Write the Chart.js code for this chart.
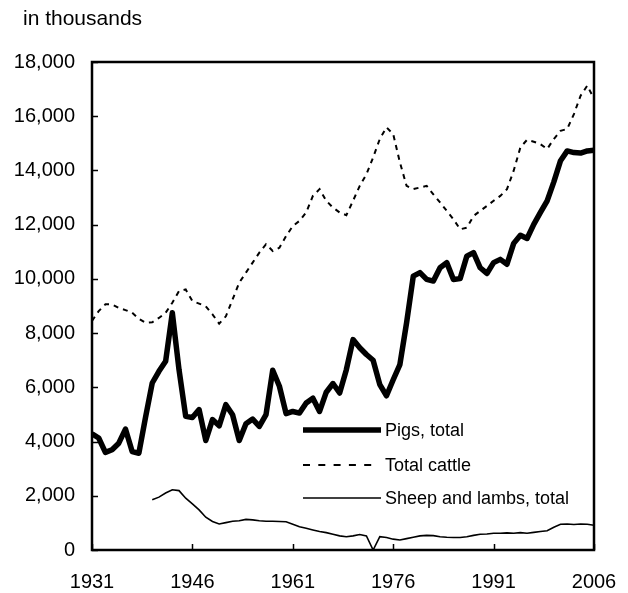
<!DOCTYPE html>
<html><head><meta charset="utf-8">
<script src="https://cdn.jsdelivr.net/npm/chart.js@4/dist/chart.umd.min.js"></script>
<style>html,body{margin:0;padding:0;background:#fff}#w{width:628px;height:593px}</style>
</head><body><div id="w"><canvas id="c" width="628" height="593"></canvas></div>
<script>
const years = [1931,1932,1933,1934,1935,1936,1937,1938,1939,1940,1941,1942,1943,1944,1945,1946,1947,1948,1949,1950,
1951,1952,1953,1954,1955,1956,1957,1958,1959,1960,1961,1962,1963,1964,1965,1966,1967,1968,1969,1970,
1971,1972,1973,1974,1975,1976,1977,1978,1979,1980,1981,1982,1983,1984,1985,1986,1987,1988,1989,1990,
1991,1992,1993,1994,1995,1996,1997,1998,1999,2000,2001,2002,2003,2004,2005,2006];
const pigs = [4290,4130,3600,3700,3940,4460,3630,3570,4900,6160,6590,6960,8750,6650,4930,4890,5180,4040,4810,4580,
5360,4990,4040,4660,4830,4560,4990,6630,6040,5030,5110,5050,5420,5600,5110,5820,6140,5790,6650,7760,
7460,7210,7000,6100,5690,6280,6840,8380,10100,10230,9980,9920,10410,10600,9980,10010,10840,10970,10410,10200,
10600,10720,10540,11310,11610,11490,12010,12450,12880,13580,14360,14720,14660,14640,14720,14750];
const cattle = [8450,8810,9060,9060,8930,8850,8750,8530,8380,8400,8560,8750,9120,9550,9610,9180,9090,8990,8690,8350,
8620,9240,9860,10230,10600,10970,11280,11030,11150,11580,11950,12140,12450,13060,13310,12880,12630,12450,12350,12880,
13430,13860,14480,15160,15590,15340,14300,13430,13310,13370,13430,13120,12820,12510,12200,11830,11890,12320,12510,12690,
12880,13060,13310,13990,14850,15130,15060,14970,14790,15160,15460,15530,16080,16760,17130,16640];
const sheep = [null,null,null,null,null,null,null,null,null,1850,1950,2100,2220,2190,1910,1700,1480,1210,1050,960,
1010,1060,1080,1130,1110,1080,1060,1060,1050,1040,950,860,800,740,680,640,580,520,490,520,
570,520,0,490,460,400,370,420,470,520,540,530,490,470,460,460,490,540,580,590,
620,620,630,620,640,620,650,680,710,840,950,960,940,960,950,910];
const seriesNames = ["Pigs, total","Total cattle","Sheep and lambs, total"];
const yTicks = [0,2000,4000,6000,8000,10000,12000,14000,16000,18000];
const xTicks = [1931,1946,1961,1976,1991,2006];
const unitLabel = "in thousands";

const FONT = '"Liberation Sans", Arial, sans-serif';
const pts = arr => years.map((y,i)=>({x:y, y:arr[i]}));

const frame = {
  id:'frame',
  afterDatasetsDraw(chart){
    const {ctx, chartArea:a, scales:{x,y}} = chart;
    ctx.save();
    ctx.strokeStyle='#000'; ctx.lineWidth=1.5;
    ctx.beginPath();
    yTicks.forEach(v=>{const py=Math.round(y.getPixelForValue(v))+0.5; ctx.moveTo(a.left,py); ctx.lineTo(a.left+6,py);});
    xTicks.forEach(v=>{const px=Math.round(x.getPixelForValue(v))+0.5; ctx.moveTo(px,a.bottom); ctx.lineTo(px,a.bottom-6);});
    ctx.stroke();
    ctx.lineWidth=2.5;
    ctx.strokeRect(a.left, a.top, a.right-a.left, a.bottom-a.top);
    ctx.fillStyle='#000'; ctx.font='21px '+FONT; ctx.textBaseline='alphabetic'; ctx.textAlign='left';
    ctx.fillText(unitLabel, 23, 25);
    // legend
    ctx.font='18px '+FONT; ctx.textBaseline='middle';
    const lx = a.left+211, rows=[430,465,498];
    chart.data.datasets.forEach((ds,i)=>{
      const yy=rows[i];
      ctx.beginPath();
      ctx.lineWidth=ds.borderWidth; ctx.strokeStyle=ds.borderColor;
      if(i===1){ctx.setLineDash([7,8.3]);} else ctx.setLineDash([]);
      ctx.moveTo(lx,yy); ctx.lineTo(i===1? lx+69 : lx+78,yy); ctx.stroke();
      ctx.setLineDash([]);
      ctx.fillText(ds.label, lx+82, yy+1);
    });
    ctx.restore();
  }
};

new Chart(document.getElementById('c'), {
  type:'line',
  data:{datasets:[
    {label:seriesNames[0], data:pts(pigs), borderColor:'#000', borderWidth:5.5, pointRadius:0, tension:0, borderJoinStyle:'round'},
    {label:seriesNames[1], data:pts(cattle), borderColor:'#000', borderWidth:2, borderDash:[5,5], pointRadius:0, tension:0},
    {label:seriesNames[2], data:pts(sheep), borderColor:'#000', borderWidth:1.6, pointRadius:0, tension:0, spanGaps:false}
  ]},
  options:{
    responsive:false, animation:false, maintainAspectRatio:false,
    layout:{padding:{left:0,right:34,top:62,bottom:0}},
    plugins:{legend:{display:false}, tooltip:{enabled:false}},
    scales:{
      x:{type:'linear', min:1931, max:2006,
        afterBuildTicks:s=>{s.ticks=xTicks.map(v=>({value:v}));},
        afterFit:s=>{s.height=43; s.paddingLeft=0; s.paddingRight=0;},
        grid:{display:false, drawTicks:false}, border:{display:false},
        ticks:{color:'#000', font:{family:FONT,size:20}, padding:20, maxRotation:0, autoSkip:false, callback:v=>String(v)}},
      y:{min:0, max:18000,
        afterBuildTicks:s=>{s.ticks=yTicks.map(v=>({value:v}));},
        afterFit:s=>{s.width=92; s.paddingTop=0; s.paddingBottom=0;},
        grid:{display:false, drawTicks:false}, border:{display:false},
        ticks:{color:'#000', font:{family:FONT,size:20}, padding:17, callback:v=>v.toLocaleString('en-US')}}
    }
  },
  plugins:[frame]
});
</script></body></html>
